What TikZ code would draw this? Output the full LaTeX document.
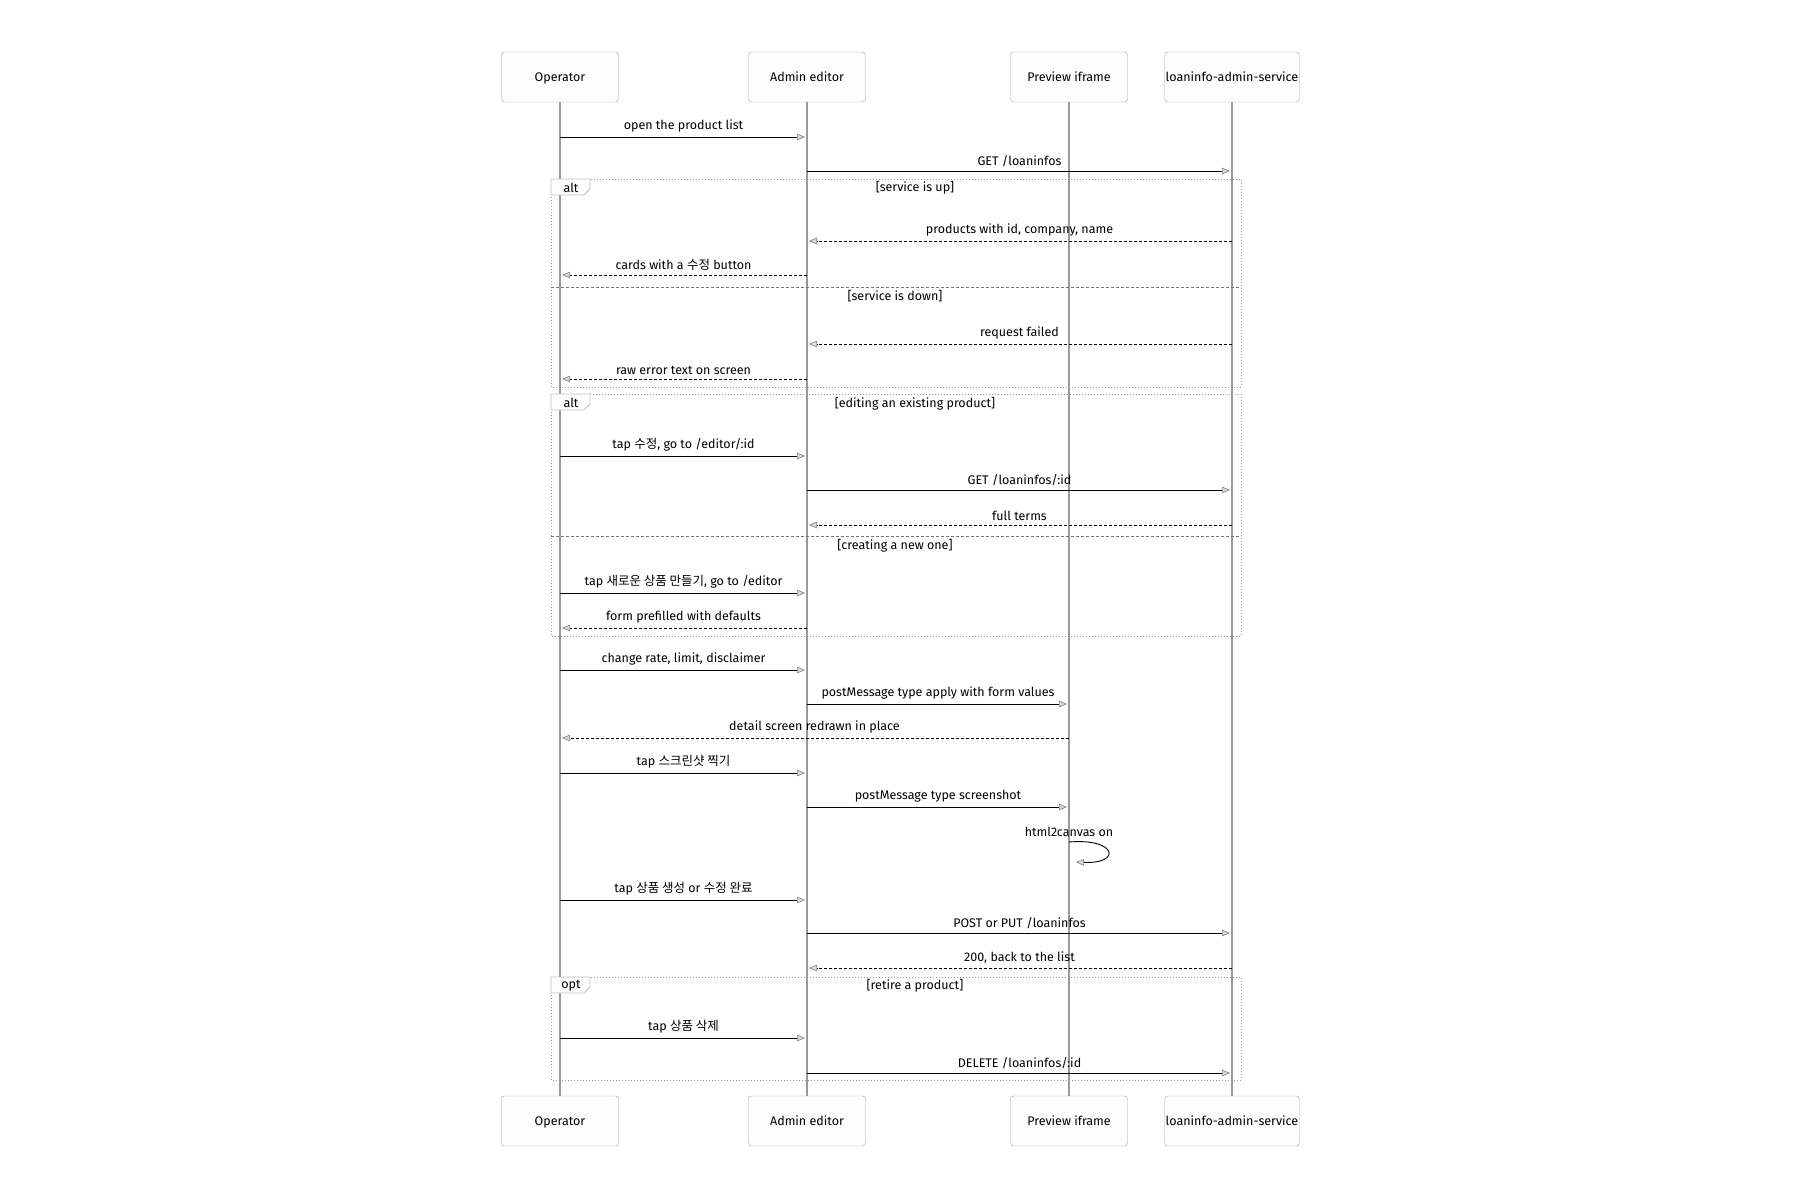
\documentclass[tikz,border=0pt]{standalone}
\usepackage{fontspec}
\setmainfont{Fira Sans}
\newfontfamily\kr{Noto Sans CJK KR}
\usetikzlibrary{arrows.meta,calc}
\definecolor{lifeline}{HTML}{999999}
\definecolor{boxedge}{HTML}{A0A0A0}
\definecolor{boxfill}{HTML}{FDFDFD}
\definecolor{framedot}{HTML}{999999}

\begin{document}
\begin{tikzpicture}[x=1pt, y=-1pt,
    actor/.style={draw=boxedge, fill=boxfill, rounded corners=3pt, minimum width=117pt, minimum height=50pt, inner sep=1pt, text height=10pt, text depth=1.5pt, font=\fontsize{12.5}{14}\selectfont},
    life/.style={draw=lifeline, line width=1.4pt},
    msg/.style={line width=0.9pt, shorten >=2pt, -{Triangle[length=8pt, width=6.5pt, fill=black!15, color=black!50, line width=0.6pt]}},
    reply/.style={msg, dash pattern=on 3pt off 2pt},
    lbl/.style={above=3pt, midway, inner sep=1pt, font=\fontsize{12.5}{14}\selectfont},
    frame/.style={draw=framedot, line width=1pt, dotted},
    split/.style={draw=black!55, line width=1pt, dash pattern=on 3pt off 2pt},
    tab/.style={draw=black!25, fill=boxfill, line width=0.8pt},
    cond/.style={inner sep=1pt, font=\fontsize{12.5}{14}\selectfont}]
    \useasboundingbox (0,0) rectangle (1800,1200);

    % Participants
    \node[actor] (op) at (560, 77) {Operator};
    \node[actor] (ad) at (807, 77) {Admin editor};
    \node[actor] (pv) at (1069, 77) {Preview iframe};
    \node[actor, minimum width=131pt] (ls) at (1232, 77) {loaninfo-admin-service};
    \node[actor] (opb) at (560, 1121) {Operator};
    \node[actor] (adb) at (807, 1121) {Admin editor};
    \node[actor] (pvb) at (1069, 1121) {Preview iframe};
    \node[actor, minimum width=131pt] (lsb) at (1232, 1121) {loaninfo-admin-service};

    % Lifelines
    \draw[life] (op) -- (opb);
    \draw[life] (ad) -- (adb);
    \draw[life] (pv) -- (pvb);
    \draw[life] (ls) -- (lsb);

    % Frames
    \draw[frame] (551, 179) rectangle (1241, 387);
    \draw[split] (551, 287) -- (1241, 287);
    \draw[frame] (551, 394) rectangle (1241, 636);
    \draw[split] (551, 536) -- (1241, 536);
    \draw[frame] (551, 977) rectangle (1241, 1080);
    \draw[tab] (551, 179) -- (590, 179) -- (590, 189) -- (584, 195) -- (551, 195) -- cycle;
    \draw[tab] (551, 394) -- (590, 394) -- (590, 404) -- (584, 410) -- (551, 410) -- cycle;
    \draw[tab] (551, 977) -- (590, 977) -- (590, 987) -- (584, 993) -- (551, 993) -- cycle;
    \node[cond] (alt1) at (571, 188) {alt};
    \node[cond] (alt2) at (571, 403) {alt};
    \node[cond] (opt1) at (571, 986) {opt};
    \node[cond] (up) at (915, 188) {[service is up]};
    \node[cond] (down) at (895, 296) {[service is down]};
    \node[cond] (edit) at (915, 404) {[editing an existing product]};
    \node[cond] (new) at (895, 546) {[creating a new one]};
    \node[cond] (retire) at (915, 986) {[retire a product]};

    % Load the list
    \draw[msg] (op |- 0,137) -- node[lbl] {open the product list} (ad |- 0,137);
    \draw[msg] (ad |- 0,171) -- node[lbl] {GET /loaninfos} (ls |- 0,171);
    \draw[reply] (ls |- 0,241) -- node[lbl] {products with id, company, name} (ad |- 0,241);
    \draw[reply] (ad |- 0,275) -- node[lbl] {cards with a {\kr 수정} button} (op |- 0,275);
    \draw[reply] (ls |- 0,344) -- node[lbl] {request failed} (ad |- 0,344);
    \draw[reply] (ad |- 0,379) -- node[lbl] {raw error text on screen} (op |- 0,379);

    % Open the editor
    \draw[msg] (op |- 0,456) -- node[lbl] {tap {\kr 수정}, go to /editor/:id} (ad |- 0,456);
    \draw[msg] (ad |- 0,490) -- node[lbl] {GET /loaninfos/:id} (ls |- 0,490);
    \draw[reply] (ls |- 0,525) -- node[lbl] {full terms} (ad |- 0,525);
    \draw[msg] (op |- 0,593) -- node[lbl] {tap {\kr 새로운 상품 만들기}, go to /editor} (ad |- 0,593);
    \draw[reply] (ad |- 0,628) -- node[lbl] {form prefilled with defaults} (op |- 0,628);

    % Preview and screenshot
    \draw[msg] (op |- 0,670) -- node[lbl] {change rate, limit, disclaimer} (ad |- 0,670);
    \draw[msg] (ad |- 0,704) -- node[lbl] {postMessage type apply with form values} (pv |- 0,704);
    \draw[reply] (pv |- 0,738) -- node[lbl] {detail screen redrawn in place} (op |- 0,738);
    \draw[msg] (op |- 0,773) -- node[lbl] {tap {\kr 스크린샷 찍기}} (ad |- 0,773);
    \draw[msg] (ad |- 0,807) -- node[lbl] {postMessage type screenshot} (pv |- 0,807);
    \node[cond] (canvas) at (1069, 832) {html2canvas on};
    \draw[msg] (pv |- 0,842) .. controls +(48,-4) and +(48,2) .. ($(pv |- 0,860)+(5,2)$);

    % Save
    \draw[msg] (op |- 0,900) -- node[lbl] {tap {\kr 상품 생성} or {\kr 수정 완료}} (ad |- 0,900);
    \draw[msg] (ad |- 0,933) -- node[lbl] {POST or PUT /loaninfos} (ls |- 0,933);
    \draw[reply] (ls |- 0,968) -- node[lbl] {200, back to the list} (ad |- 0,968);

    % Delete
    \draw[msg] (op |- 0,1038) -- node[lbl] {tap {\kr 상품 삭제}} (ad |- 0,1038);
    \draw[msg] (ad |- 0,1073) -- node[lbl] {DELETE /loaninfos/:id} (ls |- 0,1073);
\end{tikzpicture}
\end{document}
